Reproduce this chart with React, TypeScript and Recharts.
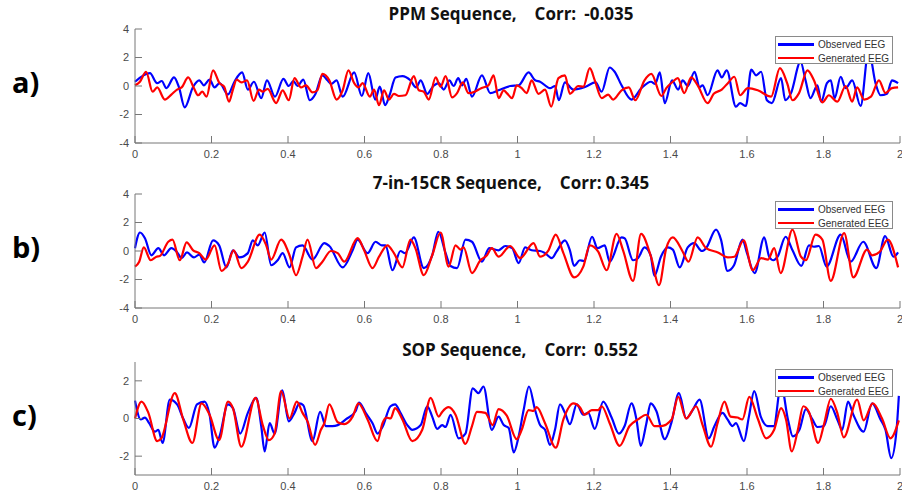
import React from "react";
import { LineChart, Line, XAxis, YAxis } from "recharts";

// time axis ticks (seconds) and amplitude ticks
const xTicks = [0, 0.2, 0.4, 0.6, 0.8, 1, 1.2, 1.4, 1.6, 1.8, 2];
const yTicksWide = [-4, -2, 0, 2, 4];
const yTicksNarrow = [-2, 0, 2];

// [time, amplitude], peaks and troughs
const ppmObserved = [
  [0, 0.3], [0.039, 0.9], [0.058, 0.2], [0.07, 0.35], [0.082, -0.15], [0.102, 0.6], [0.115, -0.1], [0.13, -1.5],
  [0.152, -0.05], [0.168, 0.4], [0.18, 0.05], [0.195, 0.45], [0.208, -0.1], [0.221, 0.2], [0.243, -0.6], [0.26, 0.3],
  [0.28, 0.95], [0.295, -0.25], [0.311, 0.3], [0.33, -0.85], [0.345, 0.4], [0.366, -0.75], [0.388, 0.5], [0.402, 0],
  [0.414, 0.35], [0.425, 0], [0.44, 0.45], [0.457, -1.0], [0.471, -0.6], [0.49, 0.75], [0.503, 0.4], [0.514, 0.15],
  [0.527, 0.4], [0.543, -0.75], [0.573, 0.95], [0.593, -0.7], [0.61, 0.9], [0.628, -0.95], [0.64, -0.05], [0.654, -1.35],
  [0.666, -0.6], [0.681, 0.6], [0.699, 0.7], [0.72, 0.4], [0.735, -0.1], [0.747, 0.4], [0.764, -0.55], [0.78, 0],
  [0.794, 0.2], [0.807, -0.25], [0.822, 0.4], [0.833, 0], [0.845, 0.55], [0.855, 0.05], [0.866, 0.5], [0.881, -0.75],
  [0.907, 0.75], [0.929, -0.5], [0.95, -0.3], [0.981, 0], [1.003, 0.05], [1.029, 0.95], [1.046, 0.4], [1.059, 0.3],
  [1.085, -0.15], [1.098, 0], [1.108, -1.0], [1.124, 0.25], [1.146, -0.25], [1.178, -0.05], [1.204, 0.25], [1.22, -0.4],
  [1.241, 1.3], [1.254, 1.0], [1.272, 0.05], [1.298, -0.95], [1.324, -0.15], [1.349, 0.3], [1.36, 0.15], [1.372, 0.95],
  [1.385, -1.2], [1.404, 0.4], [1.42, -0.25], [1.432, 0.4], [1.445, 0], [1.463, 1.0], [1.476, -0.1], [1.484, 0.05],
  [1.497, -0.65], [1.523, 1.1], [1.534, 0.6], [1.547, 1.1], [1.571, -1.45], [1.582, -1.2], [1.597, -1.4], [1.611, 1.15],
  [1.624, 0.75], [1.637, 1.0], [1.652, -1.0], [1.665, -1.2], [1.689, 0.55], [1.7, -1.0], [1.715, -0.5], [1.74, 1.7],
  [1.753, 0.4], [1.766, -0.85], [1.784, 0.05], [1.794, -1.1], [1.809, 0.2], [1.819, 0.4], [1.829, -0.85], [1.845, 0.65],
  [1.858, -0.15], [1.875, 0.4], [1.897, -1.4], [1.918, 2.5], [1.936, 0.2], [1.949, -0.65], [1.966, -0.55], [1.979, 0.4],
  [1.995, 0.2],
];
const ppmGenerated = [
  [0, 0.05], [0.013, 0.3], [0.029, 1.0], [0.046, -0.4], [0.058, -0.1], [0.078, -0.95], [0.095, -0.6], [0.11, -0.25],
  [0.122, -0.1], [0.139, 0.6], [0.154, -0.15], [0.165, -0.65], [0.176, -0.4], [0.187, -0.75], [0.204, 1.1], [0.221, 0.2],
  [0.233, -0.05], [0.246, -1.1], [0.256, -0.25], [0.266, 0.45], [0.278, 0.25], [0.293, 0.4], [0.31, -1.05], [0.324, -0.25],
  [0.334, -0.4], [0.347, -0.2], [0.369, -1.2], [0.386, -0.3], [0.402, -1.0], [0.417, 0.55], [0.434, -0.1], [0.447, 0.05],
  [0.464, -0.45], [0.477, -0.3], [0.49, 0.85], [0.508, 0.4], [0.527, -0.95], [0.543, -0.3], [0.558, 1.1], [0.573, 0.2],
  [0.584, -0.1], [0.595, 0.2], [0.614, -0.75], [0.625, -0.25], [0.638, -1.35], [0.651, -0.3], [0.664, -0.95], [0.677, -0.55],
  [0.69, -0.7], [0.707, -0.65], [0.729, 0.7], [0.742, -0.3], [0.755, -0.4], [0.768, -0.95], [0.786, 0.6], [0.799, -0.05],
  [0.812, 0.7], [0.829, -0.8], [0.842, -0.5], [0.857, 0.25], [0.872, -0.5], [0.888, -0.4], [0.905, -0.15], [0.924, 0.05],
  [0.9375, 0.75], [0.9505, -0.85], [0.964, -0.3], [0.972, -0.5], [0.986, -0.85], [0.998, 0.05], [1.011, -0.15], [1.024, -0.5],
  [1.037, 0.4], [1.055, -0.55], [1.072, -0.25], [1.088, -1.45], [1.107, 0.55], [1.124, 0.75], [1.137, -0.55], [1.159, 0],
  [1.172, -0.05], [1.189, 1.25], [1.202, 0.4], [1.22, -0.85], [1.237, -0.6], [1.25, -0.95], [1.272, -0.3], [1.291, -0.1],
  [1.308, -1.0], [1.332, 0.4], [1.35, 0.85], [1.376, -0.7], [1.389, -0.15], [1.406, 0.3], [1.419, 0.55], [1.436, -0.5],
  [1.454, 0.6], [1.471, 0.05], [1.497, -1.2], [1.513, -0.55], [1.534, -0.25], [1.55, 0.2], [1.567, 0.65], [1.582, -0.65],
  [1.602, -0.15], [1.628, -0.3], [1.663, -0.75], [1.686, 1.25], [1.705, 0.2], [1.719, -1.0], [1.736, -0.5], [1.758, 1.1],
  [1.775, 0.4], [1.797, -1.15], [1.814, -0.65], [1.836, -1.1], [1.858, 0], [1.875, -1.1], [1.888, -0.1], [1.906, -0.95],
  [1.924, -0.75], [1.945, 0.4], [1.962, -0.5], [1.979, -0.15], [1.995, -0.1],
];

const crObserved = [
  [0, 0.2], [0.013, 1.3], [0.026, 0.9], [0.043, -0.3], [0.061, 0.2], [0.076, -0.3], [0.095, 0.2], [0.109, -0.05],
  [0.122, -0.5], [0.136, -0.1], [0.154, -0.45], [0.168, -0.25], [0.181, -0.8], [0.204, 0.75], [0.22, 0.4], [0.239, -1.15],
  [0.256, 0.05], [0.273, -0.45], [0.295, -0.15], [0.308, 0.75], [0.321, 0.4], [0.339, 1.3], [0.356, -1.0], [0.373, -0.65],
  [0.386, -0.15], [0.404, -1.15], [0.421, 0.25], [0.438, 0.4], [0.464, -0.6], [0.495, 0.55], [0.508, 0.35], [0.543, -1.15],
  [0.569, 0.05], [0.582, 0.8], [0.608, -0.15], [0.629, 0.65], [0.645, 0.4], [0.655, 0.4], [0.673, -1.35], [0.694, 0],
  [0.706, -0.15], [0.729, 0.95], [0.755, -1.2], [0.777, -0.3], [0.793, 1.35], [0.812, -0.15], [0.825, -1.05], [0.842, -1.2],
  [0.864, 0.8], [0.881, 0.65], [0.907, -0.75], [0.926, 0.2], [0.9505, 0.05], [0.968, 0.35], [0.986, 0.2], [1.003, -0.85],
  [1.02, 0.25], [1.037, 0.05], [1.059, 0], [1.072, -0.15], [1.09, -0.5], [1.102, -0.05], [1.124, 0.75], [1.137, 0.05],
  [1.148, -1.05], [1.163, -0.65], [1.174, -0.7], [1.195, 1.0], [1.209, 0.2], [1.228, 0.4], [1.241, -0.75], [1.272, 0.95],
  [1.28, 0.9], [1.302, -0.65], [1.315, -0.5], [1.332, 0.25], [1.348, -0.3], [1.358, -1.75], [1.375, -0.4], [1.393, 0.25],
  [1.406, 0.1], [1.424, -1.15], [1.445, 0.25], [1.462, 0.55], [1.482, 0], [1.493, 0.2], [1.519, 1.5], [1.532, 0.8],
  [1.549, -1.4], [1.566, -1.0], [1.588, 0.8], [1.6, -0.15], [1.62, -1.55], [1.645, 0.95], [1.658, -0.4], [1.669, -0.65],
  [1.68, -0.4], [1.701, 1.0], [1.719, 0.05], [1.742, -1.05], [1.762, 0.4], [1.775, 0.3], [1.788, 0.35], [1.808, -1.1],
  [1.845, 1.15], [1.871, -0.75], [1.904, 0.65], [1.938, -1.2], [1.961, 1.05], [1.983, -0.4], [1.995, -0.1],
];
const crGenerated = [
  [0, -1.1], [0.011, -0.75], [0.023, 0.25], [0.041, -0.65], [0.056, -0.4], [0.065, -0.35], [0.087, 0.65], [0.098, 0.8],
  [0.117, -0.65], [0.135, 0.6], [0.152, 0.05], [0.168, -0.15], [0.185, -0.6], [0.208, 0.4], [0.226, -1.4], [0.243, -0.9],
  [0.258, 0.05], [0.278, -1.2], [0.295, -0.75], [0.326, 1.15], [0.343, 0.4], [0.356, -0.6], [0.382, 0.8], [0.404, -0.3],
  [0.421, -1.7], [0.438, -0.4], [0.451, 0.8], [0.473, -1.2], [0.49, -0.75], [0.512, 0], [0.53, -0.15], [0.547, -0.75],
  [0.582, 0.9], [0.599, 0.05], [0.621, -1.2], [0.638, -0.4], [0.66, 0.4], [0.677, -0.15], [0.699, -1.15], [0.72, 0.8],
  [0.733, 0.2], [0.755, -1.7], [0.777, -0.3], [0.799, 1.3], [0.82, -1.1], [0.838, 0.4], [0.851, 0.1], [0.859, 0.25],
  [0.881, -1.55], [0.903, -0.65], [0.92, -0.3], [0.933, 0.2], [0.9505, -0.4], [0.981, 0.35], [1.007, -0.5], [1.042, 0.55],
  [1.059, -0.4], [1.081, 0.05], [1.1, 1.15], [1.12, -0.15], [1.148, -1.85], [1.172, -1.1], [1.189, 0.4], [1.211, -0.05],
  [1.233, -1.35], [1.259, 1.2], [1.276, 0.05], [1.302, -2.1], [1.323, 1.2], [1.349, -0.4], [1.37, -2.4], [1.389, 0.2],
  [1.406, 0.95], [1.432, -0.05], [1.447, -0.75], [1.471, 0.95], [1.493, 0.2], [1.524, -0.1], [1.55, -0.45], [1.567, -0.4],
  [1.591, 0.75], [1.615, -1.35], [1.637, -0.5], [1.655, -0.6], [1.671, 0.2], [1.688, -1.55], [1.719, 1.5], [1.741, -0.4],
  [1.754, -0.65], [1.779, 1.15], [1.797, 0.8], [1.819, -2.1], [1.854, 1.25], [1.878, -1.85], [1.914, 0.1], [1.927, -0.3],
  [1.947, -0.05], [1.968, 0.8], [1.995, -1.15],
];

const sopObserved = [
  [0, 0.95], [0.015, -0.05], [0.026, 0.05], [0.037, -0.25], [0.052, -0.7], [0.061, -0.6], [0.072, -1.3], [0.091, 1.0],
  [0.11, 0.75], [0.126, 0], [0.141, -0.5], [0.162, 0.75], [0.182, 0.9], [0.195, 0.2], [0.208, -1.55], [0.221, -0.95],
  [0.243, 0.75], [0.256, 0.55], [0.275, -0.8], [0.295, 0.3], [0.317, 1.1], [0.33, -0.4], [0.339, -1.75], [0.352, -0.25],
  [0.365, -0.8], [0.385, 1.5], [0.402, -0.15], [0.417, 0.3], [0.43, 0.8], [0.44, 0.7], [0.464, -1.2], [0.484, 0.35],
  [0.499, -0.4], [0.516, -0.4], [0.53, -0.35], [0.551, -0.05], [0.577, 0.4], [0.586, 0.85], [0.603, 0.3], [0.621, -0.25],
  [0.634, -0.8], [0.647, -0.45], [0.668, 0.65], [0.68, 0.75], [0.694, 0.3], [0.712, -0.35], [0.725, -0.6], [0.747, -0.35],
  [0.764, 0.65], [0.777, 0.1], [0.79, -0.55], [0.803, -0.35], [0.812, -0.45], [0.825, 0.2], [0.846, -1.05], [0.864, -0.8],
  [0.883, 1.6], [0.898, 1.35], [0.911, 1.7], [0.933, -0.6], [0.9505, 0.1], [0.964, -0.35], [0.977, -0.5], [0.99, -1.8],
  [1.003, -0.95], [1.016, 0.45], [1.03, 1.7], [1.046, 0.45], [1.059, -0.35], [1.072, -0.6], [1.085, -1.4], [1.098, -0.6],
  [1.111, 0.75], [1.124, 0.3], [1.137, -0.3], [1.155, 0.75], [1.172, 0.2], [1.185, 0.3], [1.202, -0.55], [1.224, 0.9],
  [1.246, 0.05], [1.265, -0.8], [1.28, -0.4], [1.298, 0.8], [1.311, -0.05], [1.322, -1.45], [1.337, -0.25], [1.348, 0.8],
  [1.363, 0.4], [1.385, -1.1], [1.402, -0.25], [1.422, 1.35], [1.441, 0], [1.458, 0.45], [1.476, 1.0], [1.5, -1.05],
  [1.515, -0.4], [1.536, 0.3], [1.549, -0.05], [1.562, -0.4], [1.571, -0.25], [1.592, -1.2], [1.605, 0.1], [1.619, 1.45],
  [1.636, 0.1], [1.654, -0.4], [1.67, -0.4], [1.689, 1.8], [1.707, -0.05], [1.72, -0.95], [1.737, -0.6], [1.754, 0.5],
  [1.771, -0.05], [1.784, -0.45], [1.801, -0.4], [1.819, 0.65], [1.836, -0.05], [1.849, -0.6], [1.864, 0.9], [1.878, 0.2],
  [1.905, -0.7], [1.927, 0.8], [1.949, -0.05], [1.962, -0.6], [1.977, -2.1], [1.991, -0.6], [1.997, 1.2],
];
const sopGenerated = [
  [0, 0], [0.017, 0.9], [0.035, 0.3], [0.058, -1.2], [0.069, -1.05], [0.104, 1.35], [0.126, -0.05], [0.15, -1.3],
  [0.174, 0.8], [0.195, 0.2], [0.22, -1.15], [0.243, 0.9], [0.256, 0.55], [0.278, -1.5], [0.315, 1.1], [0.334, -0.35],
  [0.35, -1.15], [0.365, -0.8], [0.382, 1.45], [0.404, 0], [0.423, 0.9], [0.438, 0.3], [0.451, -0.15], [0.471, -1.4],
  [0.486, -0.6], [0.495, -0.25], [0.508, 0.75], [0.53, -0.2], [0.547, -0.3], [0.569, 0.1], [0.584, 0.8], [0.608, -0.05],
  [0.634, -1.2], [0.647, -0.25], [0.657, 0.05], [0.668, 0], [0.68, 0.55], [0.699, -0.05], [0.725, -1.2], [0.751, -0.6],
  [0.773, 1.1], [0.794, 0.1], [0.803, 0.35], [0.82, 0.6], [0.838, 0.2], [0.864, -1.35], [0.881, -0.4], [0.894, 0.35],
  [0.916, 0.3], [0.935, -0.35], [0.9505, 0.5], [0.972, 0.15], [0.998, -1.1], [1.011, -0.6], [1.029, 0.45], [1.042, 0.4],
  [1.05, 0.6], [1.072, -0.25], [1.1, -1.55], [1.12, -0.05], [1.146, 0.8], [1.163, 0.6], [1.176, 0.2], [1.194, 0.45],
  [1.211, 0.45], [1.22, 0.65], [1.241, -0.25], [1.267, -1.45], [1.293, -0.4], [1.315, -0.05], [1.337, 0.2], [1.358, -0.4],
  [1.375, -0.4], [1.403, -0.05], [1.42, 1.15], [1.441, 0], [1.467, 0.65], [1.484, -0.35], [1.506, -1.5], [1.523, -0.25],
  [1.541, 0.9], [1.557, 0.1], [1.575, 0.05], [1.588, -0.05], [1.606, 1.15], [1.628, 0], [1.65, -1.05], [1.671, -0.6],
  [1.689, 0.55], [1.702, -0.05], [1.717, -1.75], [1.733, -0.6], [1.747, 0.65], [1.762, 0.35], [1.786, -1.3], [1.802, -0.25],
  [1.819, 1.05], [1.836, 0.3], [1.853, -1.0], [1.888, 1.0], [1.905, -0.1], [1.929, 0.8], [1.953, 0], [1.975, -1.05],
  [1.997, -0.1],
];

const AXIS = "#777";
const LABEL = "#4a4a4a";
const TICK_FONT = '"Liberation Sans", Arial, sans-serif';
const TITLE_FONT = '"Open Sans", "Noto Sans", sans-serif';

const toRows = (pairs: number[][]) => pairs.map(([t, v]) => ({ t, v }));

type PanelProps = {
  top: number;
  height: number;
  marginTop: number;
  axisHeight: number;
  yDomain: [number, number];
  yTicks: number[];
  observed: number[][];
  generated: number[][];
  letter: string;
  name: string;
  corr: string;
  corrGap: number;
  titleY: number;
  titleX: number;
};

function Panel(p: PanelProps) {
  const tickStyle = { fill: LABEL, fontSize: 11, fontFamily: TICK_FONT };
  return (
    <>
      <div style={{ position: "absolute", left: 0, top: p.top, width: 910, height: p.height }}>
        <LineChart width={910} height={p.height} margin={{ top: p.marginTop, right: 10, bottom: 0, left: 0 }}>
          <XAxis
            xAxisId="b"
            type="number"
            dataKey="t"
            domain={[0, 2]}
            ticks={xTicks}
            interval={0}
            tickFormatter={(v: number) => String(v)}
            height={p.axisHeight}
            tickSize={-7}
            tickMargin={14}
            stroke={AXIS}
            tick={tickStyle}
          />
          <XAxis xAxisId="t" type="number" dataKey="t" orientation="top" domain={[0, 2]} ticks={xTicks} interval={0} height={0} tickSize={-7} tick={false} stroke={AXIS} />
          <YAxis
            yAxisId="l"
            type="number"
            domain={p.yDomain}
            ticks={p.yTicks}
            interval={0}
            width={135}
            tickSize={-7}
            tickMargin={13}
            stroke={AXIS}
            tick={tickStyle}
          />
          <YAxis yAxisId="r" type="number" orientation="right" domain={p.yDomain} ticks={p.yTicks} interval={0} width={0} tickSize={-7} tick={false} stroke={AXIS} />
          <Line xAxisId="b" yAxisId="l" data={toRows(p.observed)} dataKey="v" type="monotone" stroke="#0000ff" strokeWidth={2.2} dot={false} isAnimationActive={false} />
          <Line xAxisId="b" yAxisId="l" data={toRows(p.generated)} dataKey="v" type="monotone" stroke="#ff0000" strokeWidth={2.2} dot={false} isAnimationActive={false} />
        </LineChart>
        <div
          style={{
            position: "absolute",
            left: 775,
            top: p.marginTop + 7,
            width: 116,
            height: 26,
            border: "1px solid #8a8a8a",
            background: "#fff",
            fontFamily: TICK_FONT,
            fontSize: 10,
            color: "#333",
          }}
        >
          {[
            ["#0000ff", "Observed EEG"],
            ["#ff0000", "Generated EEG"],
          ].map(([c, label], i) => (
            <div key={label} style={{ position: "absolute", left: 2, top: 1 + i * 13.6, height: 13, display: "flex", alignItems: "center" }}>
              <span style={{ display: "inline-block", width: 36, height: 2.4, background: c, marginRight: 4 }} />
              <span style={{ whiteSpace: "nowrap" }}>{label}</span>
            </div>
          ))}
        </div>
      </div>
      <div
        style={{
          position: "absolute",
          left: p.titleX - 300,
          width: 600,
          top: p.titleY - 12,
          height: 24,
          lineHeight: "24px",
          textAlign: "center",
          whiteSpace: "pre",
          fontFamily: TITLE_FONT,
          fontWeight: 700,
          fontSize: 17,
          color: "#111",
        }}
      >
        {p.name}
        <span style={{ marginLeft: 18 }}>Corr:</span>
        <span style={{ marginLeft: p.corrGap }}>{p.corr}</span>
      </div>
      <div
        style={{
          position: "absolute",
          left: 12,
          top: p.top + p.marginTop + (p.height - p.marginTop - p.axisHeight) / 2 - 24,
          height: 40,
          lineHeight: "40px",
          fontFamily: TITLE_FONT,
          fontWeight: 700,
          fontSize: 29,
          color: "#000",
        }}
      >
        {p.letter}
      </div>
    </>
  );
}

export default function App() {
  return (
    <div style={{ position: "relative", width: 902, height: 495, overflow: "hidden", background: "#fff" }}>
      <style>{`body { margin: 0; }`}</style>
      <Panel
        top={0} height={170} marginTop={29} axisHeight={27}
        yDomain={[-4, 4]} yTicks={yTicksWide}
        observed={ppmObserved} generated={ppmGenerated}
        letter="a)" name="PPM Sequence," corr="-0.035" corrGap={8} titleX={511} titleY={14}
      />
      <Panel
        top={170} height={165} marginTop={24} axisHeight={27}
        yDomain={[-4, 4]} yTicks={yTicksWide}
        observed={crObserved} generated={crGenerated}
        letter="b)" name="7-in-15CR Sequence," corr="0.345" corrGap={4} titleX={511} titleY={183}
      />
      <Panel
        top={335} height={160} marginTop={27} axisHeight={20}
        yDomain={[-3, 3]} yTicks={yTicksNarrow}
        observed={sopObserved} generated={sopGenerated}
        letter="c)" name="SOP Sequence," corr="0.552" corrGap={8} titleX={520} titleY={350}
      />
    </div>
  );
}
